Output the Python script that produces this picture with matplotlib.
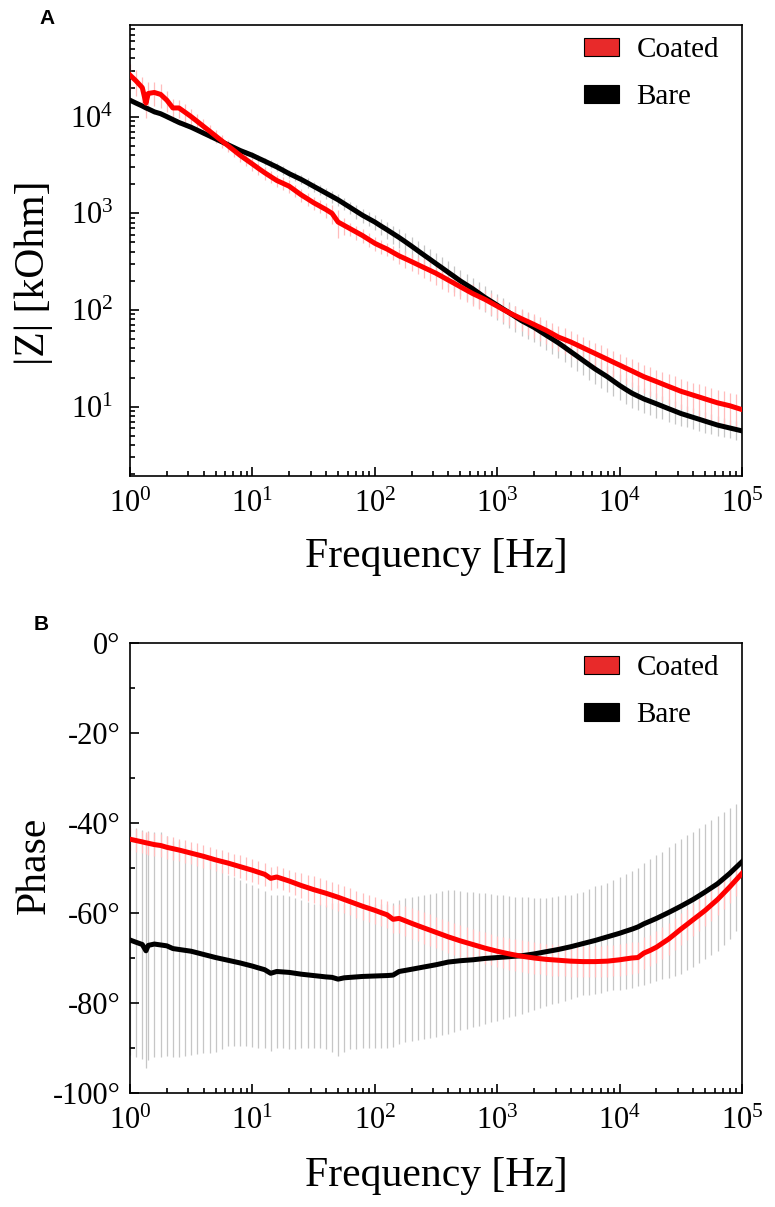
import numpy as np
import matplotlib
matplotlib.use("Agg")
import matplotlib.pyplot as plt
from matplotlib.patches import Patch
from matplotlib.ticker import LogLocator, NullFormatter, FixedLocator, FixedFormatter, MultipleLocator

plt.rcParams['font.family'] = ['Liberation Serif', 'DejaVu Serif']
plt.rcParams['mathtext.fontset'] = 'stix'

# ---------------- data ----------------
freq_hz = [1, 1.12, 1.26, 1.35, 1.41, 1.58, 1.78, 2.0, 2.24, 2.51,
           2.82, 3.16, 3.55, 3.98, 4.47, 5.01, 5.62, 6.31, 7.08, 7.94, 8.91, 10,
           11.2, 12.6, 14.1, 15.8, 17.8, 20.0, 22.4, 25.1, 28.2, 31.6,
           35.5, 39.8, 44.7, 50.1, 56.2, 63.1, 70.8, 79.4, 89.1, 100,
           112, 126, 141, 158, 178, 200, 224, 251, 282, 316,
           355, 398, 447, 501, 562, 631, 708, 794, 891, 1000,
           1120, 1260, 1410, 1580, 1780, 2000, 2240, 2510, 2820, 3160,
           3550, 3980, 4470, 5010, 5620, 6310, 7080, 7940, 8910, 10000,
           11200, 12600, 14100, 15800, 17800, 20000, 22400, 25100, 28200, 31600,
           35500, 39800, 44700, 50100, 56200, 63100, 70800, 79400, 89100, 100000]

# log10 of |Z| in kOhm
z_coated_log10 = [4.43, 4.37, 4.30, 4.14, 4.24, 4.25, 4.23, 4.17, 4.09, 4.09,
                  4.045, 4.00, 3.95, 3.90, 3.85, 3.80, 3.75, 3.70, 3.65, 3.60, 3.555, 3.51,
                  3.465, 3.42, 3.38, 3.34, 3.31, 3.28, 3.235, 3.19, 3.15, 3.11,
                  3.075, 3.04, 3.00, 2.91, 2.875, 2.84, 2.805, 2.77, 2.73, 2.69,
                  2.66, 2.63, 2.595, 2.56, 2.53, 2.50, 2.47, 2.44, 2.41, 2.38,
                  2.345, 2.31, 2.275, 2.24, 2.205, 2.17, 2.14, 2.11, 2.075, 2.04,
                  2.005, 1.97, 1.94, 1.91, 1.88, 1.85, 1.82, 1.79, 1.755, 1.72,
                  1.695, 1.67, 1.64, 1.61, 1.58, 1.55, 1.52, 1.49, 1.46, 1.43,
                  1.40, 1.37, 1.34, 1.31, 1.285, 1.26, 1.235, 1.21, 1.185, 1.16,
                  1.14, 1.12, 1.10, 1.08, 1.06, 1.04, 1.025, 1.01, 0.99, 0.97]
z_bare_log10 = [4.17, 4.14, 4.11, 4.09, 4.08, 4.05, 4.03, 4.00, 3.97, 3.94,
                3.915, 3.89, 3.86, 3.83, 3.80, 3.77, 3.74, 3.71, 3.68, 3.65, 3.625, 3.60,
                3.57, 3.54, 3.51, 3.48, 3.445, 3.41, 3.38, 3.35, 3.315, 3.28,
                3.245, 3.21, 3.175, 3.14, 3.10, 3.06, 3.02, 2.98, 2.945, 2.91,
                2.87, 2.83, 2.79, 2.75, 2.705, 2.66, 2.615, 2.57, 2.525, 2.48,
                2.435, 2.39, 2.345, 2.30, 2.26, 2.22, 2.175, 2.13, 2.09, 2.05,
                2.01, 1.97, 1.93, 1.89, 1.855, 1.82, 1.78, 1.74, 1.70, 1.66,
                1.615, 1.57, 1.525, 1.48, 1.435, 1.39, 1.35, 1.31, 1.265, 1.22,
                1.18, 1.14, 1.11, 1.08, 1.055, 1.03, 1.005, 0.98, 0.955, 0.93,
                0.91, 0.89, 0.87, 0.85, 0.83, 0.81, 0.795, 0.78, 0.765, 0.75]
# standard deviation of |Z| in percent of the mean
z_coated_sd_pct = [30, 30, 30, 30, 30, 28, 28, 25, 25, 22,
                   21, 20, 19, 18, 17, 16, 15, 15, 15, 15, 15, 15,
                   15, 15, 15, 15, 15, 15, 15, 15, 15, 15,
                   16, 18, 22, 32, 20, 16, 16, 16, 16, 16,
                   16, 16, 17, 18, 19, 20, 21, 22, 23, 24,
                   25, 25, 25, 25, 25, 25, 25, 25, 25, 25,
                   25, 25, 26, 26, 27, 27, 28, 28, 28, 29,
                   30, 30, 30, 30, 30, 30, 30, 30, 30, 30,
                   31, 32, 32, 32, 33, 33, 34, 34, 35, 35,
                   35, 35, 36, 36, 36, 36, 37, 37, 37, 37]
z_bare_sd_pct = [5, 5, 5, 5, 5, 5, 5, 5, 5, 5,
                 5, 5, 5, 5, 5, 5, 6, 6, 6, 6, 7, 7,
                 8, 8, 9, 9, 10, 10, 11, 11, 12, 12,
                 13, 13, 14, 14, 15, 15, 16, 16, 17, 18,
                 19, 20, 21, 22, 23, 24, 25, 26, 27, 28,
                 29, 30, 30, 30, 30, 30, 30, 30, 30, 30,
                 30, 30, 30, 30, 30, 30, 30, 30, 30, 30,
                 30, 30, 30, 30, 30, 30, 30, 30, 30, 30,
                 30, 30, 29, 29, 28, 28, 27, 27, 26, 26,
                 25, 25, 24, 24, 23, 23, 22, 22, 22, 22]

# phase in degrees
ph_coated = [-43.6, -43.9, -44.2, -44.4, -44.5, -44.8, -45.0, -45.4, -45.7, -46.0,
             -46.35, -46.7, -47.05, -47.4, -47.8, -48.2, -48.55, -48.9, -49.3, -49.7, -50.1, -50.5,
             -50.95, -51.4, -52.3, -52.0, -52.45, -52.9, -53.4, -53.9, -54.35, -54.8,
             -55.2, -55.6, -56.05, -56.5, -57.0, -57.5, -58.0, -58.5, -58.95, -59.4,
             -59.9, -60.4, -61.4, -61.2, -61.75, -62.3, -62.8, -63.3, -63.8, -64.3,
             -64.8, -65.3, -65.75, -66.2, -66.6, -67.0, -67.4, -67.8, -68.15, -68.5,
             -68.8, -69.1, -69.35, -69.6, -69.8, -70.0, -70.15, -70.3, -70.4, -70.5,
             -70.6, -70.7, -70.75, -70.8, -70.8, -70.8, -70.75, -70.7, -70.55, -70.4,
             -70.2, -70.0, -69.9, -68.9, -68.3, -67.6, -66.7, -65.8, -64.7, -63.6,
             -62.55, -61.5, -60.45, -59.4, -58.2, -57.0, -55.6, -54.2, -52.7, -51.2]
ph_bare = [-66.0, -66.5, -67.0, -68.4, -67.2, -66.9, -67.1, -67.3, -67.9, -68.1,
           -68.3, -68.5, -68.85, -69.2, -69.55, -69.9, -70.2, -70.5, -70.8, -71.1, -71.45, -71.8,
           -72.2, -72.6, -73.4, -73.0, -73.1, -73.2, -73.4, -73.6, -73.75, -73.9,
           -74.05, -74.2, -74.3, -74.7, -74.4, -74.3, -74.2, -74.1, -74.05, -74.0,
           -73.95, -73.9, -73.8, -73.0, -72.75, -72.5, -72.25, -72.0, -71.75, -71.5,
           -71.2, -70.9, -70.75, -70.6, -70.5, -70.4, -70.25, -70.1, -70.0, -69.9,
           -69.8, -69.7, -69.6, -69.5, -69.3, -69.1, -68.85, -68.6, -68.35, -68.1,
           -67.8, -67.5, -67.15, -66.8, -66.45, -66.1, -65.7, -65.3, -64.9, -64.5,
           -64.05, -63.6, -63.1, -62.4, -61.8, -61.2, -60.55, -59.9, -59.2, -58.5,
           -57.75, -57.0, -56.15, -55.3, -54.4, -53.5, -52.35, -51.2, -49.9, -48.6]
ph_coated_sd = [2.5, 2.5, 2.5, 2.5, 2.5, 2.5, 2.5, 2.5, 2.5, 2.5,
                2.5, 2.5, 2.5, 2.5, 2.5, 2.5, 2.5, 2.5, 2.5, 2.5, 2.5, 2.5,
                2.5, 2.5, 2.5, 2.5, 2.5, 2.5, 2.6, 2.8, 2.9, 3.0,
                3.0, 3.0, 3.0, 3.0, 3.0, 3.0, 3.0, 3.0, 3.0, 3.0,
                3.0, 3.0, 3.1, 3.2, 3.3, 3.4, 3.5, 3.5, 3.5, 3.5,
                3.5, 3.5, 3.5, 3.5, 3.5, 3.5, 3.5, 3.5, 3.5, 3.5,
                3.5, 3.5, 3.5, 3.5, 3.5, 3.5, 3.5, 3.5, 3.5, 3.5,
                3.5, 3.5, 3.5, 3.5, 3.5, 3.5, 3.5, 3.5, 3.5, 3.5,
                3.5, 3.5, 3.5, 3.5, 3.5, 3.5, 3.5, 3.5, 3.5, 3.5,
                3.5, 3.5, 3.5, 3.5, 3.5, 3.5, 3.5, 3.5, 3.5, 3.5]
ph_bare_sd = [25.5, 25.5, 25.5, 26, 25.5, 25, 25, 24.5, 24, 24,
              23.5, 23, 22.5, 22, 21.5, 21, 20, 19, 18.8, 18.5, 18.2, 18,
              17.8, 17.5, 17.3, 17, 17, 17, 16.8, 16.5, 16.2, 16,
              16, 16, 16.5, 17, 16.5, 16, 16, 16, 16, 16,
              16, 16, 16, 16, 16, 16, 16, 16, 16, 16,
              16, 16, 15.8, 15.5, 15.2, 15, 14.8, 14.5, 14.2, 14,
              13.8, 13.5, 13.2, 13, 12.8, 12.5, 12.2, 12, 11.9, 11.8,
              11.7, 11.5, 11.5, 11.5, 11.8, 12, 12, 12, 12.2, 12.5,
              12.8, 13, 13.2, 13.5, 13.8, 14, 14.2, 14.5, 14.8, 15,
              15, 15, 15, 15, 15, 15, 14.8, 14.5, 14.2, 14]

series_labels = ["Coated", "Bare"]
phase_ticks = [0, -20, -40, -60, -80, -100]
phase_tick_labels = ["0\u00b0", "-20\u00b0", "-40\u00b0", "-60\u00b0", "-80\u00b0", "-100\u00b0"]

# ---------------- styling ----------------
RED = "#ff0000"
PINK = "#ffbcbc"
GRAY = "#c6c6c6"
LEG_RED = "#e82a2a"

f = np.array(freq_hz)
zc = 10 ** np.array(z_coated_log10)
zb = 10 ** np.array(z_bare_log10)
zc_err = zc * np.array(z_coated_sd_pct) / 100.0
zb_err = zb * np.array(z_bare_sd_pct) / 100.0
pc = np.array(ph_coated); pb = np.array(ph_bare)

fig = plt.figure(figsize=(7.75, 12.07), dpi=100)
W, H = 775.0, 1207.0
axA = fig.add_axes([130 / W, 1 - 476 / H, 612 / W, 451 / H])
axB = fig.add_axes([130 / W, 1 - 1093 / H, 612 / W, 450 / H])


def style_axis(ax):
    for s in ax.spines.values():
        s.set_linewidth(1.2)
    ax.tick_params(which='both', direction='in', top=False, right=False, width=1.2)
    ax.tick_params(which='major', length=6.5, labelsize=22)
    ax.tick_params(which='minor', length=3.8)


LW = 3.6
EW = 0.9

# ---- panel A ----
axA.errorbar(f, zb, yerr=zb_err, fmt='none', ecolor=GRAY, elinewidth=EW, capsize=0, zorder=1)
axA.errorbar(f, zc, yerr=zc_err, fmt='none', ecolor=PINK, elinewidth=EW, capsize=0, zorder=2)
axA.plot(f, zb, color='black', lw=LW, zorder=3)
axA.plot(f, zc, color=RED, lw=LW, zorder=4)
axA.set_xscale('log'); axA.set_yscale('log')
axA.set_xlim(1, 1e5)
axA.set_ylim(1.92, 8.87e4)
axA.yaxis.set_major_locator(LogLocator(base=10, numticks=10))
axA.yaxis.set_minor_locator(LogLocator(base=10, subs=np.arange(2, 10), numticks=20))
axA.xaxis.set_minor_locator(LogLocator(base=10, subs=np.arange(2, 10), numticks=20))
axA.xaxis.set_minor_formatter(NullFormatter()); axA.yaxis.set_minor_formatter(NullFormatter())
style_axis(axA)
axA.tick_params(axis='y', which='major', pad=12)
axA.tick_params(axis='x', which='major', pad=10)
axA.set_xlabel("Frequency [Hz]", fontsize=30)
axA.xaxis.set_label_coords(0.5, -0.137)
axA.set_ylabel("|Z| [kOhm]", fontsize=30)
axA.yaxis.set_label_coords(-0.125, 0.45)

# ---- panel B ----
axB.errorbar(f, pb, yerr=ph_bare_sd, fmt='none', ecolor=GRAY, elinewidth=EW, capsize=0, zorder=1)
axB.errorbar(f, pc, yerr=ph_coated_sd, fmt='none', ecolor=PINK, elinewidth=EW, capsize=0, zorder=2)
axB.plot(f, pb, color='black', lw=LW, zorder=3)
axB.plot(f, pc, color=RED, lw=LW, zorder=4)
axB.set_xscale('log')
axB.set_xlim(1, 1e5)
axB.set_ylim(-100, 0)
axB.yaxis.set_major_locator(FixedLocator(phase_ticks))
axB.yaxis.set_major_formatter(FixedFormatter(phase_tick_labels))
axB.yaxis.set_minor_locator(MultipleLocator(10))
axB.xaxis.set_minor_locator(LogLocator(base=10, subs=np.arange(2, 10), numticks=20))
axB.xaxis.set_minor_formatter(NullFormatter())
style_axis(axB)
axB.tick_params(axis='y', which='major', pad=7)
axB.tick_params(axis='x', which='major', pad=10)
axB.set_xlabel("Frequency [Hz]", fontsize=30)
axB.xaxis.set_label_coords(0.5, -0.142)
axB.set_ylabel("Phase", fontsize=30)
axB.yaxis.set_label_coords(-0.125, 0.505)

# legends
for ax in (axA, axB):
    handles = [Patch(facecolor=LEG_RED, edgecolor='black', linewidth=0.8),
               Patch(facecolor='black', edgecolor='black', linewidth=0.8)]
    ax.legend(handles, series_labels, loc='upper left', bbox_to_anchor=(0.742, 0.973),
              frameon=False, fontsize=21, handlelength=1.2, handleheight=0.55,
              handletextpad=0.6, labelspacing=0.73, borderpad=0, borderaxespad=0)

# panel letters
fig.text(47 / W, 1 - 19 / H, "A", fontsize=15, fontweight='bold', family='Liberation Sans',
         ha='center', va='center')
fig.text(41 / W, 1 - 624 / H, "B", fontsize=15, fontweight='bold', family='Liberation Sans',
         ha='center', va='center')

fig.savefig("out.png", dpi=100)
